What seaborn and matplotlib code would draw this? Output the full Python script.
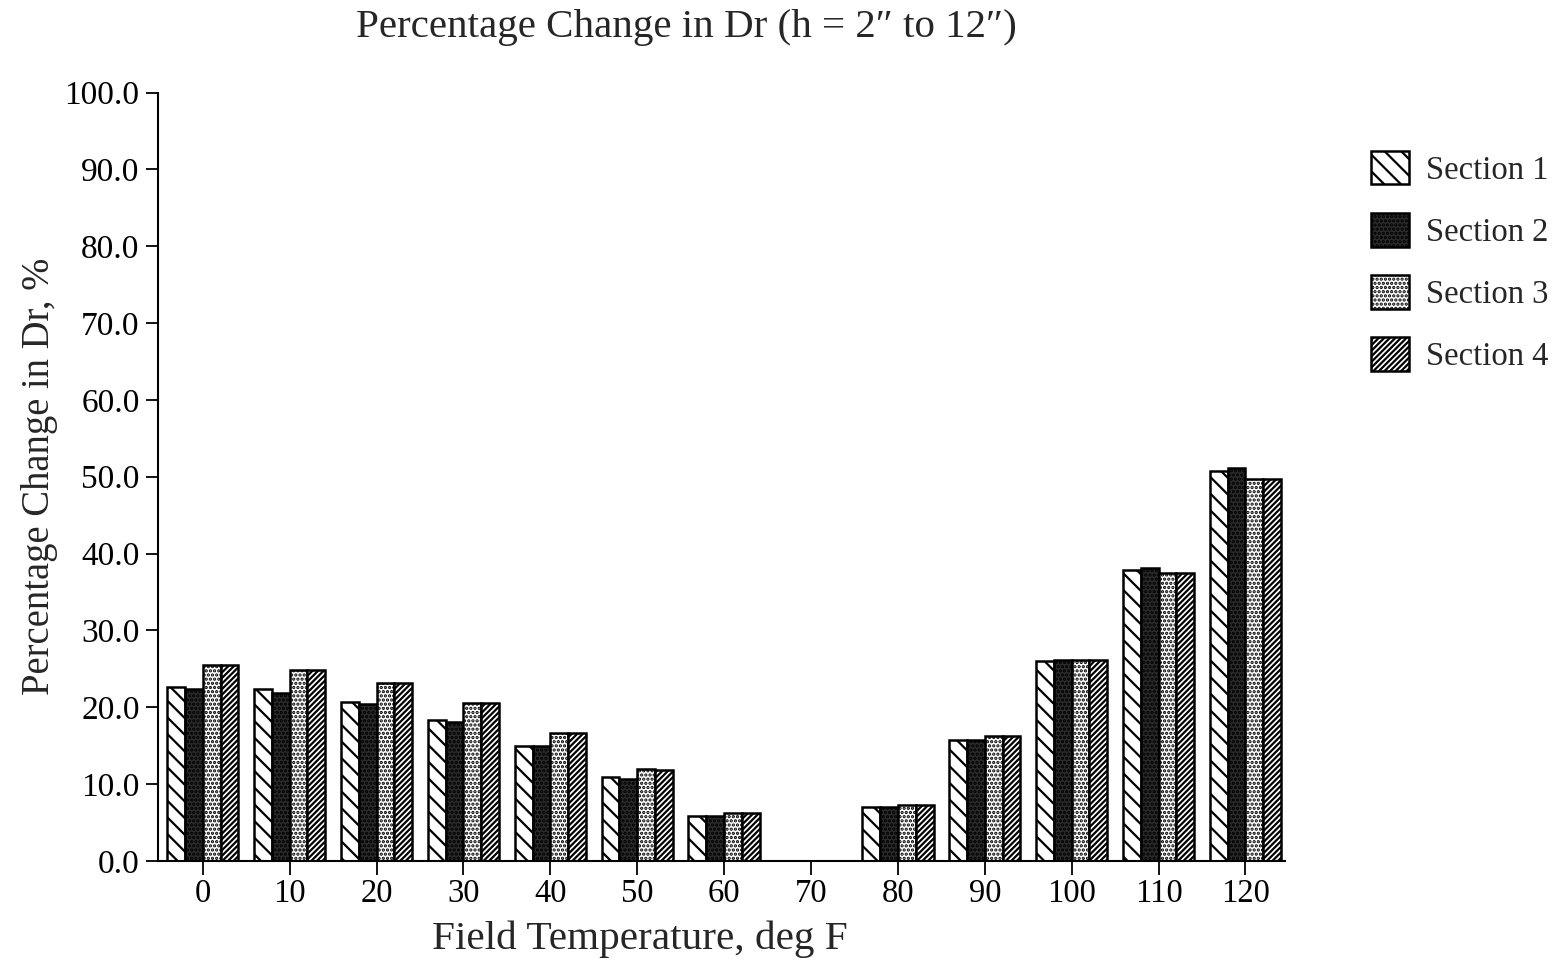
import matplotlib
matplotlib.use("Agg")
import matplotlib.pyplot as plt
import seaborn as sns
import pandas as pd
from matplotlib.patches import Patch

temps = ["0", "10", "20", "30", "40", "50", "60", "70", "80", "90", "100", "110", "120"]
section1 = [22.6, 22.3, 20.7, 18.3, 15.0, 10.9, 5.8, 0.0, 7.0, 15.7, 26.0, 37.9, 50.7]
section2 = [22.3, 21.8, 20.4, 18.1, 14.9, 10.7, 5.8, 0.0, 7.0, 15.7, 26.1, 38.1, 51.1]
section3 = [25.5, 24.9, 23.1, 20.5, 16.7, 11.9, 6.2, 0.0, 7.2, 16.2, 26.2, 37.4, 49.7]
section4 = [25.5, 24.9, 23.1, 20.5, 16.7, 11.8, 6.2, 0.0, 7.2, 16.2, 26.2, 37.4, 49.7]
sections = ["Section 1", "Section 2", "Section 3", "Section 4"]

rows = []
for name, vals in zip(sections, [section1, section2, section3, section4]):
    for t, v in zip(temps, vals):
        rows.append({"Temp": t, "Section": name, "Value": v})
df = pd.DataFrame(rows)

sns.set_theme(style="ticks")
plt.rcParams["font.family"] = ["Liberation Serif", "DejaVu Serif"]
plt.rcParams["hatch.linewidth"] = 1.6

fig = plt.figure(figsize=(15.6, 9.65), dpi=100)
ax = fig.add_axes([0.101, 0.108, 0.723, 0.796])

styles = {
    "Section 1": dict(facecolor="white", hatch="\\\\"),
    "Section 2": dict(facecolor="#2b2b2b", hatch="...."),
    "Section 3": dict(facecolor="white", hatch="...."),
    "Section 4": dict(facecolor="white", hatch="//////"),
}

sns.barplot(data=df, x="Temp", y="Value", hue="Section", order=temps,
            hue_order=sections, width=0.82, ax=ax, legend=False,
            edgecolor="black", linewidth=1.8, gap=0)

for cont, name in zip(ax.containers, sections):
    for bar in cont:
        bar.set_facecolor(styles[name]["facecolor"])
        bar.set_hatch(styles[name]["hatch"])
        bar.set_edgecolor("black")
        if bar.get_height() == 0:
            bar.set_visible(False)

ax.set_ylim(0, 100)
ax.set_xlim(-0.52, 12.46)
ax.set_yticks(range(0, 101, 10))
ax.set_yticklabels([f"{v:.1f}" for v in range(0, 101, 10)])
ax.tick_params(axis="y", labelsize=24, direction="out", length=9, width=1.3,
               colors="black", pad=4)
ax.tick_params(axis="x", labelsize=23.5, direction="out", length=10, width=1.3,
               colors="black", pad=3)
for s in ["top", "right"]:
    ax.spines[s].set_visible(False)
for s in ["left", "bottom"]:
    ax.spines[s].set_linewidth(1.5)
    ax.spines[s].set_color("black")

ax.set_xlabel("Field Temperature, deg F", fontsize=29.7)
ax.xaxis.set_label_coords(0.428, -0.078)
ax.set_ylabel("Percentage Change in Dr, %", fontsize=27.8, labelpad=5)

fig.text(0.44, 0.972, "Percentage Change in Dr (h = 2\u2033 to 12\u2033)", fontsize=29.5,
         ha="center", va="center")

handles = [Patch(facecolor=styles[n]["facecolor"], hatch=styles[n]["hatch"],
                 edgecolor="black", linewidth=1.8, label=n) for n in sections]
fig.legend(handles=handles, loc="upper left", bbox_to_anchor=(0.860, 0.874),
           frameon=False, fontsize=23.5, handlelength=1.15, handleheight=1.2,
           labelspacing=0.84, handletextpad=0.55)

fig.savefig("out.png", dpi=100, facecolor="white")
